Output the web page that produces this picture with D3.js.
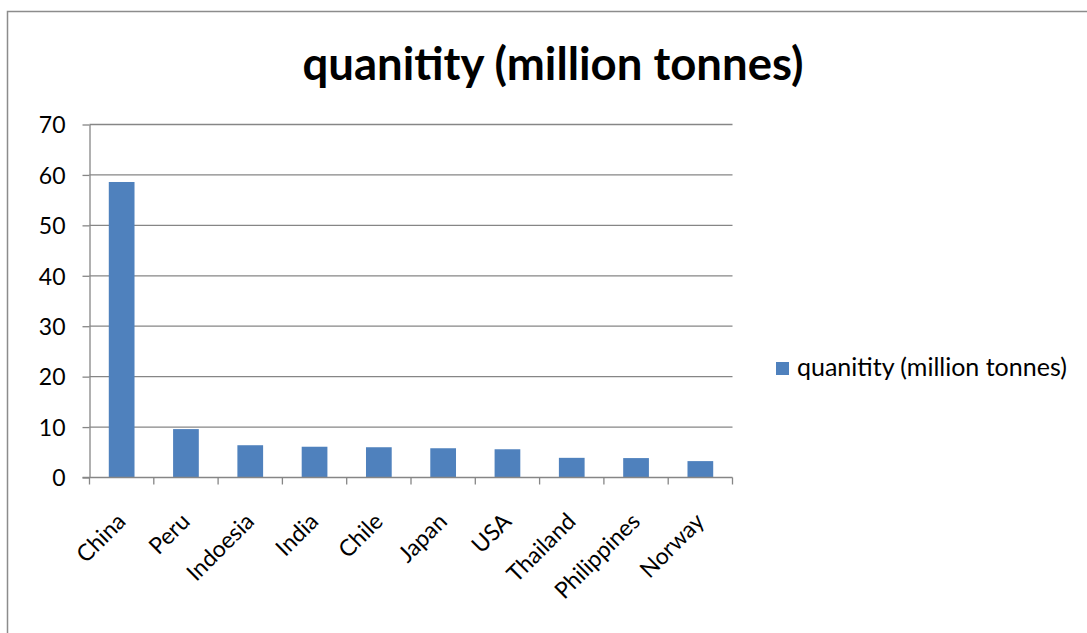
<!DOCTYPE html>
<meta charset="utf-8">
<style>
    body { margin: 0; background: #fff; }
    text { font-family: Lato, "Open Sans", sans-serif; fill: #000; }
    .grid line { stroke: #868686; stroke-width: 1.3px; }
    .axis path, .axis line { stroke: #868686; stroke-width: 1.3px; }
</style>
<svg width="1087" height="633"></svg>
<script src="https://d3js.org/d3.v7.min.js"></script>
<script>

    var countries = ["China", "Peru", "Indoesia", "India", "Chile", "Japan", "USA", "Thailand", "Philippines", "Norway"];
    var quantity = [58.6, 9.6, 6.4, 6.1, 6.0, 5.8, 5.6, 3.9, 3.85, 3.25];
    var yTicks = [0, 10, 20, 30, 40, 50, 60, 70];
    var seriesName = "quanitity (million tonnes)";

    var svg = d3.select("svg");

    // outer chart frame (cropped at right/bottom like the original)
    svg.append("rect")
        .attr("x", 7.5).attr("y", 11.5)
        .attr("width", 1200).attr("height", 800)
        .attr("fill", "none")
        .attr("stroke", "#8c8c8c")
        .attr("stroke-width", 1.5);

    var plotL = 89.5, plotR = 732.5, plotT = 124.5, plotB = 477.5;

    var x = d3.scaleBand()
        .domain(countries)
        .range([plotL, plotR])
        .paddingInner(0.6)
        .paddingOuter(0.3);

    var y = d3.scaleLinear()
        .domain([0, 70])
        .range([plotB, plotT]);

    // horizontal gridlines
    svg.append("g")
        .attr("class", "grid")
        .selectAll("line")
        .data(yTicks.slice(1))
        .enter().append("line")
        .attr("x1", plotL).attr("x2", plotR)
        .attr("y1", function (d) { return y(d); })
        .attr("y2", function (d) { return y(d); });

    // bars
    svg.append("g")
        .selectAll("rect")
        .data(quantity)
        .enter().append("rect")
        .attr("x", function (d, i) { return x(countries[i]); })
        .attr("y", function (d) { return y(d); })
        .attr("width", x.bandwidth())
        .attr("height", function (d) { return y(0) - y(d); })
        .attr("fill", "#4f81bd");

    // y axis
    var yAxis = svg.append("g")
        .attr("class", "axis")
        .attr("transform", "translate(" + plotL + ",0)")
        .call(d3.axisLeft(y).tickValues(yTicks).tickSize(7).tickPadding(17).tickSizeOuter(0));
    yAxis.selectAll("text")
        .style("font-size", "23px")
        .style("font-family", "Lato, sans-serif")
        .attr("dy", "0.36em");

    // x axis, ticks at category boundaries
    var xg = svg.append("g")
        .attr("class", "axis");
    xg.append("line")
        .attr("x1", plotL - 7).attr("x2", plotR)
        .attr("y1", plotB).attr("y2", plotB);
    xg.selectAll(".tk")
        .data(d3.range(countries.length + 1))
        .enter().append("line")
        .attr("class", "tk")
        .attr("x1", function (d) { return plotL + d * (plotR - plotL) / countries.length; })
        .attr("x2", function (d) { return plotL + d * (plotR - plotL) / countries.length; })
        .attr("y1", plotB).attr("y2", plotB + 7);

    xg.selectAll(".lbl")
        .data(countries)
        .enter().append("text")
        .attr("class", "lbl")
        .attr("text-anchor", "end")
        .style("font-size", "23px")
        .attr("transform", function (d) {
            var cx = x(d) + x.bandwidth() / 2;
            return "translate(" + (cx - 6) + "," + (plotB + 34) + ") rotate(-45)";
        })
        .attr("dy", "0.7em")
        .text(function (d) { return d; });

    // title
    svg.append("text")
        .attr("x", 553).attr("y", 80)
        .attr("text-anchor", "middle")
        .style("font-size", "45.5px")
        .style("font-weight", "bold")
        .text(seriesName);

    // legend
    var legend = svg.append("g").attr("transform", "translate(776,362)");
    legend.append("rect")
        .attr("width", 13).attr("height", 13)
        .attr("fill", "#4f81bd");
    legend.append("text")
        .attr("x", 21).attr("y", 14)
        .style("font-size", "25px")
        .text(seriesName);

</script>
